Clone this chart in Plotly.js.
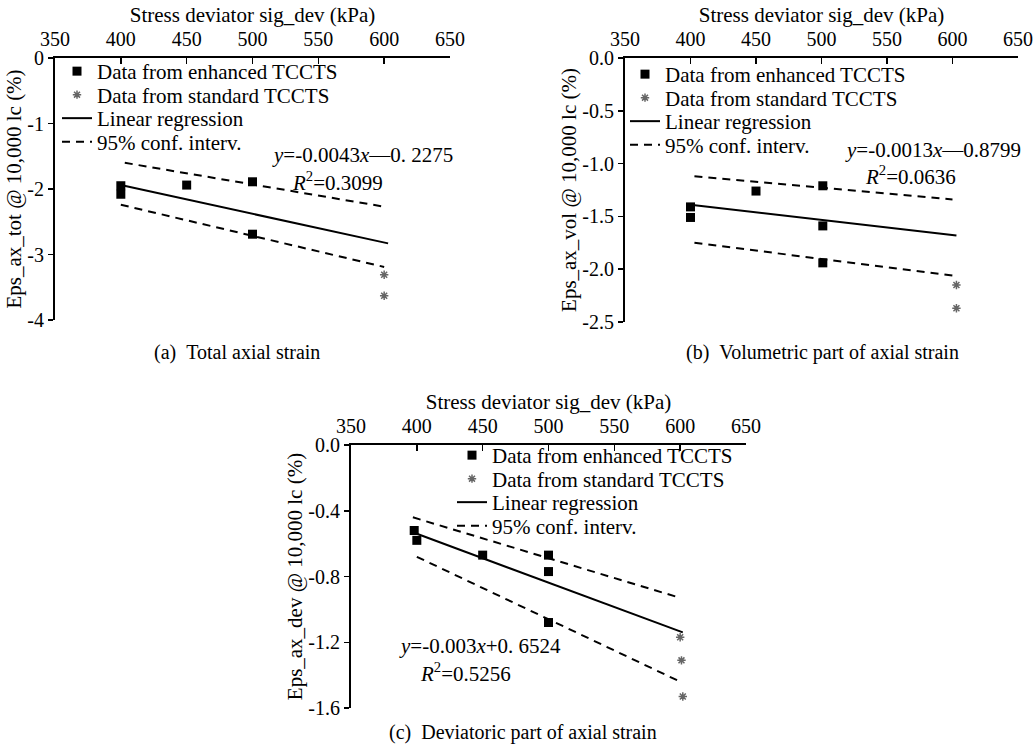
<!DOCTYPE html>
<html>
<head>
<meta charset="utf-8">
<script src="https://cdn.plot.ly/plotly-3.0.1.min.js"></script>
<style>html,body{margin:0;padding:0;background:#fff;}#chart{width:1035px;height:746px;}</style>
</head>
<body>
<div id="chart"></div>
<script>
// ---- data ----
const xTickVals = [350, 400, 450, 500, 550, 600, 650];
const xTickText = ["350", "400", "450", "500", "550", "600", "650"];
const xTitle = "Stress deviator sig_dev (kPa)";

const legendNames = ["Data from enhanced TCCTS", "Data from standard TCCTS", "Linear regression", "95% conf. interv."];

// (a) total axial strain
const aEnhX = [400, 400, 450, 500, 500];
const aEnhY = [-1.95, -2.08, -1.94, -1.89, -2.69];
const aStdX = [600, 600];
const aStdY = [-3.31, -3.63];
const aRegX = [400, 603];
const aRegY = [-1.94, -2.83];
const aCIX = [403, 600, null, 400, 600];
const aCIY = [-1.60, -2.27, null, -2.24, -3.19];
const aYTickVals = [0, -1, -2, -3, -4];
const aYTickText = ["0", "-1", "-2", "-3", "-4"];
const aYTitle = "Eps_ax_tot @ 10,000 lc (%)";
const aEq = ["<i>y</i>=-0.0043<i>x</i>\u20140. 2275", "<i>R</i><sup>2</sup>=0.3099"];
const aCaption = "(a)\u00a0\u00a0Total axial strain";

// (b) volumetric part
const bEnhX = [400, 400, 450, 501, 501, 501];
const bEnhY = [-1.41, -1.51, -1.26, -1.21, -1.59, -1.94];
const bStdX = [603, 603];
const bStdY = [-2.15, -2.37];
const bRegX = [400, 603];
const bRegY = [-1.39, -1.68];
const bCIX = [403, 600, null, 403, 600];
const bCIY = [-1.12, -1.34, null, -1.75, -2.06];
const bYTickVals = [0, -0.5, -1.0, -1.5, -2.0, -2.5];
const bYTickText = ["0.0", "-0.5", "-1.0", "-1.5", "-2.0", "-2.5"];
const bYTitle = "Eps_ax_vol @ 10,000 lc (%)";
const bEq = ["<i>y</i>=-0.0013<i>x</i>\u20140.8799", "<i>R</i><sup>2</sup>=0.0636"];
const bCaption = "(b)\u00a0\u00a0Volumetric part of axial strain";

// (c) deviatoric part
const cEnhX = [398, 400, 450, 500, 500, 500];
const cEnhY = [-0.52, -0.58, -0.67, -0.67, -0.77, -1.08];
const cStdX = [600, 601, 602];
const cStdY = [-1.17, -1.31, -1.53];
const cRegX = [400, 602];
const cRegY = [-0.54, -1.14];
const cCIX = [397, 600, null, 400, 600];
const cCIY = [-0.44, -0.93, null, -0.68, -1.44];
const cYTickVals = [0, -0.4, -0.8, -1.2, -1.6];
const cYTickText = ["0.0", "-0.4", "-0.8", "-1.2", "-1.6"];
const cYTitle = "Eps_ax_dev @ 10,000 lc (%)";
const cEq = ["<i>y</i>=-0.003<i>x</i>+0. 6524", "<i>R</i><sup>2</sup>=0.5256"];
const cCaption = "(c)\u00a0\u00a0Deviatoric part of axial strain";

// ---- build ----
const W = 1035, H = 746;
const FONT = '"Liberation Serif", "Times New Roman", serif';
const px = v => v / W;
const py = v => 1 - v / H;

function panelTraces(sfx, legendId, enhX, enhY, stdX, stdY, regX, regY, ciX, ciY) {
  const xa = 'x' + sfx, ya = 'y' + sfx;
  return [
    {type: 'scatter', mode: 'markers', x: enhX, y: enhY, xaxis: xa, yaxis: ya, legend: legendId,
     name: legendNames[0], marker: {symbol: 'square', size: 9, color: '#000'}},
    {type: 'scatter', mode: 'markers', x: stdX, y: stdY, xaxis: xa, yaxis: ya, legend: legendId,
     name: legendNames[1], marker: {symbol: 'asterisk-open', size: 7, color: '#666', line: {color: '#555', width: 1.5}}},
    {type: 'scatter', mode: 'lines', x: regX, y: regY, xaxis: xa, yaxis: ya, legend: legendId,
     name: legendNames[2], line: {color: '#000', width: 2}},
    {type: 'scatter', mode: 'lines', x: ciX, y: ciY, xaxis: xa, yaxis: ya, legend: legendId,
     name: legendNames[3], line: {color: '#000', width: 2, dash: '8px,6px'}, connectgaps: false}
  ];
}

const data = [].concat(
  panelTraces('', 'legend', aEnhX, aEnhY, aStdX, aStdY, aRegX, aRegY, aCIX, aCIY),
  panelTraces('2', 'legend2', bEnhX, bEnhY, bStdX, bStdY, bRegX, bRegY, bCIX, bCIY),
  panelTraces('3', 'legend3', cEnhX, cEnhY, cStdX, cStdY, cRegX, cRegY, cCIX, cCIY)
);

function xAxis(domain, anchor) {
  return {
    domain: domain, anchor: anchor, side: 'top', range: [350, 650],
    tickmode: 'array', tickvals: xTickVals, ticktext: xTickText,
    ticks: 'inside', ticklen: 6, tickwidth: 1.5, tickcolor: '#000', ticklabelstandoff: 2,
    showline: true, linecolor: '#000', linewidth: 2, showgrid: false, zeroline: false,
    tickfont: {family: FONT, size: 20, color: '#000'},
    title: {text: xTitle, font: {family: FONT, size: 21, color: '#000'}, standoff: 0}
  };
}
function yAxis(domain, anchor, range, vals, text, title) {
  return {
    domain: domain, anchor: anchor, range: range,
    tickmode: 'array', tickvals: vals, ticktext: text,
    ticks: 'outside', ticklen: 5, tickwidth: 1.5, tickcolor: '#000',
    showline: true, linecolor: '#000', linewidth: 2, showgrid: false, zeroline: false,
    tickfont: {family: FONT, size: 20, color: '#000'},
    title: {text: title, font: {family: FONT, size: 21, color: '#000'}, standoff: 0}
  };
}
function legendCfg(xPx, yPx) {
  return {x: px(xPx), y: py(yPx), xanchor: 'left', yanchor: 'top', bgcolor: 'rgba(0,0,0,0)',
          font: {family: FONT, size: 21, color: '#000'}, itemwidth: 30, tracegroupgap: 0};
}
function ann(text, xPx, yPx, anchor, size) {
  return {text: text, xref: 'paper', yref: 'paper', x: px(xPx), y: py(yPx), xanchor: anchor, yanchor: 'middle',
          showarrow: false, font: {family: FONT, size: size || 21, color: '#000'}};
}

const layout = {
  width: W, height: H, margin: {l: 0, r: 0, t: 0, b: 0},
  paper_bgcolor: '#fff', plot_bgcolor: '#fff', showlegend: true,
  xaxis: xAxis([px(55), px(450)], 'y'),
  yaxis: yAxis([py(320), py(58)], 'x', [-4, 0], aYTickVals, aYTickText, aYTitle),
  xaxis2: xAxis([px(625), px(1018)], 'y2'),
  yaxis2: yAxis([py(322), py(58)], 'x2', [-2.5, 0], bYTickVals, bYTickText, bYTitle),
  xaxis3: xAxis([px(351), px(746)], 'y3'),
  yaxis3: yAxis([py(708), py(445)], 'x3', [-1.6, 0], cYTickVals, cYTickText, cYTitle),
  legend: legendCfg(57, 51),
  legend2: legendCfg(625, 54),
  legend3: legendCfg(452, 435),
  annotations: [
    ann(aEq[0], 270, 155, 'left'), ann(aEq[1], 290, 181, 'left'),
    ann(bEq[0], 843, 150, 'left'), ann(bEq[1], 863, 176, 'left'),
    ann(cEq[0], 397, 646, 'left'), ann(cEq[1], 418, 672, 'left'),
    ann(aCaption, 237, 352, 'center', 20),
    ann(bCaption, 822, 352, 'center', 20),
    ann(cCaption, 523, 732, 'center', 20)
  ]
};

Plotly.newPlot('chart', data, layout, {displayModeBar: false, staticPlot: true}).then(gd => {
  // tighten legend row spacing to match the reference's compact legend
  const ROW = 23.5;
  gd.querySelectorAll('.infolayer > g').forEach(g => {
    const cls = g.getAttribute('class') || '';
    if (!/^legend\d*$/.test(cls)) return;
    const items = g.querySelectorAll('g.traces');
    if (!items.length) return;
    const m0 = /translate\(\s*([-\d.]+)[ ,]+([-\d.]+)\s*\)/.exec(items[0].getAttribute('transform') || '');
    if (!m0) return;
    const y0 = parseFloat(m0[2]);
    items.forEach((it, i) => {
      const m = /translate\(\s*([-\d.]+)[ ,]+([-\d.]+)\s*\)/.exec(it.getAttribute('transform') || '');
      if (!m) return;
      it.setAttribute('transform', 'translate(' + m[1] + ',' + (y0 + i * ROW) + ')');
    });
  });
});
</script>
</body>
</html>
